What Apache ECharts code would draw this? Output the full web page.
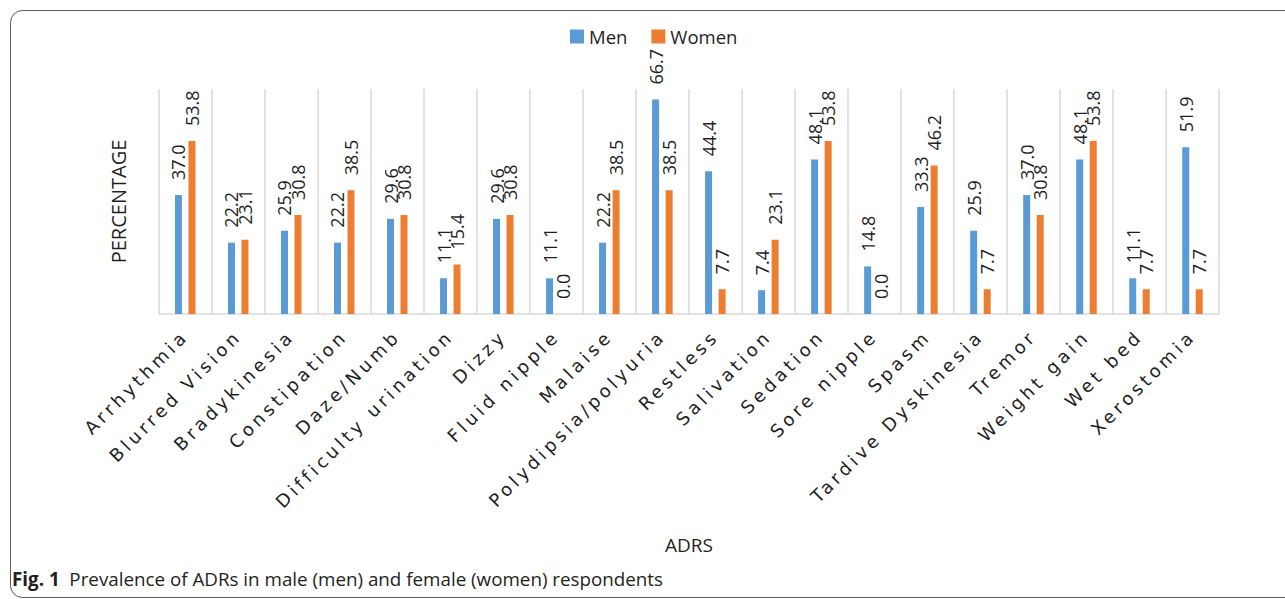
<!DOCTYPE html>
<html>
<head>
<meta charset="utf-8">
<title>Prevalence of ADRs</title>
<script src="https://cdn.jsdelivr.net/npm/echarts@6/dist/echarts.min.js"></script>
<style>
  html, body { margin: 0; padding: 0; background: #fff; }
  #chart { width: 1285px; height: 599px; }
  /* spaced-out category labels on the x axis */
  #chart svg text[style*="DejaVu"] { letter-spacing: 3.8px; }
</style>
</head>
<body>
<div id="chart"></div>
<script>
// Adverse drug reactions reported, by category
const categories = [
  'Arrhythmia', 'Blurred Vision', 'Bradykinesia', 'Constipation', 'Daze/Numb',
  'Difficulty urination', 'Dizzy', 'Fluid nipple', 'Malaise', 'Polydipsia/polyuria',
  'Restless', 'Salivation', 'Sedation', 'Sore nipple', 'Spasm',
  'Tardive Dyskinesia', 'Tremor', 'Weight gain', 'Wet bed', 'Xerostomia'
];
// Percentage of respondents in each group
const men = [37.0, 22.2, 25.9, 22.2, 29.6, 11.1, 29.6, 11.1, 22.2, 66.7,
             44.4, 7.4, 48.1, 14.8, 33.3, 25.9, 37.0, 48.1, 11.1, 51.9];
const women = [53.8, 23.1, 30.8, 38.5, 30.8, 15.4, 30.8, 0.0, 38.5, 38.5,
               7.7, 23.1, 53.8, 0.0, 46.2, 7.7, 30.8, 53.8, 7.7, 7.7];
const seriesNames = ['Men', 'Women'];
const captionLabel = 'Fig. 1';
const captionText = 'Prevalence of ADRs in male (men) and female (women) respondents';

const BLUE = '#5B9BD5';
const ORANGE = '#ED7D31';
const TEXT = '"Open Sans", sans-serif';

const chart = echarts.init(document.getElementById('chart'), null, { renderer: 'svg' });

const valueLabel = {
  show: true,
  position: 'top',
  rotate: 90,
  align: 'left',
  verticalAlign: 'middle',
  distance: 15,
  fontFamily: TEXT,
  fontSize: 18,
  color: '#1f1f1f',
  formatter: p => p.value.toFixed(1)
};

chart.setOption({
  animation: false,
  backgroundColor: '#fff',
  title: {
    left: 12,
    top: 569,
    padding: 0,
    text: '{b|' + captionLabel + '}  ' + captionText,
    textStyle: {
      fontFamily: TEXT,
      fontSize: 18.8,
      fontWeight: 'normal',
      color: '#231f20',
      rich: {
        b: { fontFamily: TEXT, fontSize: 18.8, fontWeight: 'bold', color: '#231f20' }
      }
    }
  },
  legend: {
    data: seriesNames,
    left: 565,
    top: 22,
    icon: 'rect',
    itemWidth: 14,
    itemHeight: 14,
    itemGap: 24,
    textStyle: { fontFamily: TEXT, fontSize: 18.5, color: '#1f1f1f' }
  },
  grid: { left: 158.7, right: 66, top: 89, bottom: 285, containLabel: false },
  xAxis: {
    type: 'category',
    data: categories,
    name: 'ADRS',
    nameLocation: 'middle',
    nameGap: 221,
    nameTextStyle: { fontFamily: TEXT, fontSize: 19, color: '#1f1f1f' },
    axisLine: { show: true, lineStyle: { color: '#d9d9d9', width: 1.5 } },
    axisTick: { show: false },
    splitLine: { show: true, lineStyle: { color: '#d9d9d9', width: 1.5 } },
    axisLabel: {
      interval: 0,
      rotate: 45,
      margin: 19,
      fontFamily: '"DejaVu Sans", sans-serif',
      fontSize: 18,
      color: '#1f1f1f'
    }
  },
  yAxis: {
    type: 'value',
    min: 0,
    max: 70,
    interval: 10,
    name: 'PERCENTAGE',
    nameLocation: 'middle',
    nameRotate: 90,
    nameGap: 30,
    nameTextStyle: { fontFamily: TEXT, fontSize: 20, color: '#1f1f1f' },
    axisLine: { show: false },
    axisTick: { show: false },
    axisLabel: { show: false },
    splitLine: { show: false }
  },
  series: [
    {
      name: seriesNames[0],
      type: 'bar',
      data: men,
      barWidth: 7,
      barGap: '93%',
      itemStyle: { color: BLUE },
      label: valueLabel
    },
    {
      name: seriesNames[1],
      type: 'bar',
      data: women,
      barWidth: 7,
      itemStyle: { color: ORANGE },
      label: valueLabel
    }
  ],
  graphic: [
    {
      type: 'rect',
      silent: true,
      shape: { x: 10.5, y: 10.5, width: 1300, height: 587, r: 12 },
      style: { fill: 'none', stroke: '#5a5a5a', lineWidth: 1 }
    }
  ]
});
</script>
</body>
</html>
